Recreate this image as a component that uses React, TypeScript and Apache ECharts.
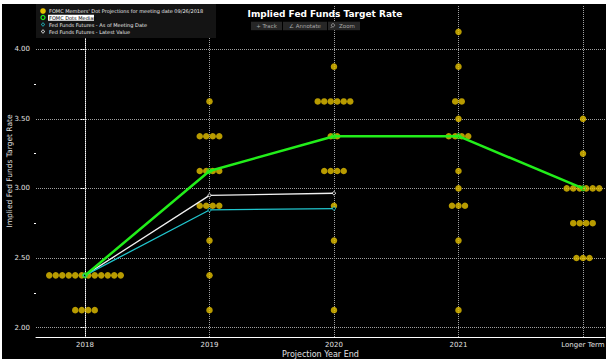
import React, { useEffect, useRef } from "react";
import * as echarts from "echarts";

const categories = ["2018", "2019", "2020", "2021", "Longer Term"];

// FOMC dot plot: [rate, number of participants]
const dots2018 = [[2.375, 12], [2.125, 4]];
const dots2019 = [[3.625, 1], [3.375, 4], [3.125, 4], [2.875, 4], [2.625, 1], [2.375, 1], [2.125, 1]];
const dots2020 = [[3.875, 1], [3.625, 6], [3.375, 2], [3.125, 4], [2.875, 1], [2.625, 1], [2.125, 1]];
const dots2021 = [[4.125, 1], [3.875, 1], [3.625, 2], [3.5, 1], [3.375, 4], [3.125, 1], [3.0, 1], [2.875, 3], [2.625, 1], [2.125, 1]];
const dotsLonger = [[3.5, 1], [3.25, 1], [3.0, 6], [2.75, 4], [2.5, 3]];
const dotGroups = [dots2018, dots2019, dots2020, dots2021, dotsLonger];

const medianValues = [2.375, 3.125, 3.375, 3.375, 3.0];
const futuresMeeting = [2.375, 2.845, 2.855];
const futuresLatest = [2.375, 2.95, 2.965];

const yTicks = [2.0, 2.5, 3.0, 3.5, 4.0];
const yMinorTicks = [2.25, 2.75, 3.25, 3.75];
const xTicks = [0, 1, 2, 3, 4];

const YELLOW = "#e6c200";
const GREEN = "#22ee1a";
const CYAN = "#20c4cc";
const WHITE = "#f0f0f0";
const FONT = "DejaVu Sans";

export default function App() {
  const ref = useRef<HTMLDivElement>(null);
  useEffect(() => {
    document.body.style.margin = "0";
    const chart = echarts.init(ref.current!, null, { renderer: "svg" });

    const scatterData: any[] = [];
    dotGroups.forEach((group, i) => {
      group.forEach(([rate, count]) => {
        for (let j = 0; j < count; j++) {
          scatterData.push({
            value: [i, rate],
            symbolOffset: [(j - (count - 1) / 2) * 6.5, 0],
          });
        }
      });
    });

    const gridStyle = { color: "#a0a0a0", width: 1, type: [1, 1] as any };

    const option: any = {
      animation: false,
      backgroundColor: "#000",
      textStyle: { fontFamily: FONT },
      grid: { left: 34, top: 1, right: 1, bottom: 22, containLabel: false, outerBoundsMode: "none" },
      xAxis: {
        type: "value",
        min: -0.3936,
        max: 4.177,
        axisLine: { show: true, lineStyle: { color: "#ffffff", width: 1 } },
        axisTick: { show: false },
        splitLine: { show: false },
        axisLabel: {
          customValues: xTicks,
          formatter: (v: number) => categories[Math.round(v)] ?? "",
          color: "#e0e0e0",
          fontSize: 7,
          fontFamily: FONT,
          margin: 4,
        },
        name: "Projection Year End",
        nameLocation: "middle",
        nameGap: 13,
        nameMoveOverlap: false,
        nameTextStyle: { color: "#e0e0e0", fontSize: 8, fontFamily: FONT },
      },
      yAxis: [
        {
          type: "value",
          min: 1.932,
          max: 4.318,
          axisLine: { show: true, lineStyle: { color: "#ffffff", width: 1 } },
          axisTick: { show: true, customValues: yTicks, length: 5, lineStyle: { color: "#ffffff" } },
          splitLine: { show: false },
          axisLabel: {
            customValues: yTicks,
            formatter: (v: number) => v.toFixed(2),
            color: "#e0e0e0",
            fontSize: 7,
            fontFamily: FONT,
            margin: 6,
          },
          name: "Implied Fed Funds Target Rate",
          nameLocation: "middle",
          nameGap: 23,
          nameMoveOverlap: false,
          nameTextStyle: { color: "#e0e0e0", fontSize: 7.5, fontFamily: FONT },
        },
        {
          type: "value",
          position: "left",
          min: 1.932,
          max: 4.318,
          axisLine: { show: false },
          axisTick: { show: true, customValues: yMinorTicks, length: 2, lineStyle: { color: "#ffffff" } },
          axisLabel: { show: false },
          splitLine: { show: false },
        },
      ],
      series: [
        {
          type: "scatter",
          name: "dots",
          data: scatterData,
          symbol: "circle",
          symbolSize: 6.5,
          itemStyle: { color: YELLOW },
          z: 2,
          silent: true,
          markLine: {
            silent: true,
            symbol: "none",
            label: { show: false },
            lineStyle: gridStyle,
            data: [
              ...xTicks.map((x) => ({ xAxis: x })),
              ...yTicks.map((y) => ({ yAxis: y })),
            ],
            z: 1,
          },
        },
        {
          type: "line",
          name: "Fed Funds Futures - Latest Value",
          data: futuresLatest.map((v, i) => [i, v]),
          symbol: "circle",
          symbolSize: 3,
          itemStyle: { color: "#000", borderColor: WHITE, borderWidth: 1 },
          lineStyle: { color: WHITE, width: 1.3 },
          z: 3,
        },
        {
          type: "line",
          name: "Fed Funds Futures - As of Meeting Date",
          data: futuresMeeting.map((v, i) => [i, v]),
          symbol: "circle",
          symbolSize: 3,
          itemStyle: { color: "#000", borderColor: CYAN, borderWidth: 1 },
          lineStyle: { color: CYAN, width: 1.3 },
          z: 3,
        },
        {
          type: "line",
          name: "FOMC Dots Median",
          data: medianValues.map((v, i) => [i, v]),
          symbol: "circle",
          symbolSize: 5,
          itemStyle: { color: "rgba(0,0,0,0)", borderColor: GREEN, borderWidth: 1 },
          lineStyle: { color: GREEN, width: 2.5 },
          z: 4,
        },
      ],
      graphic: [
        // legend box
        { type: "rect", shape: { x: 34, y: 0, width: 180, height: 34 }, style: { fill: "#141414" }, z: 10 },
        { type: "circle", shape: { cx: 41, cy: 7, r: 2.8 }, style: { fill: YELLOW }, z: 11 },
        {
          type: "text", x: 47, y: 7, z: 11,
          style: { text: "FOMC Members' Dot Projections for meeting date 09/26/2018", fill: "#e8e8e8", fontSize: 5, fontFamily: FONT, verticalAlign: "middle" },
        },
        { type: "circle", shape: { cx: 41, cy: 13.5, r: 2 }, style: { fill: "none", stroke: GREEN, lineWidth: 1.2 }, z: 11 },
        { type: "rect", shape: { x: 46, y: 10.7, width: 46, height: 6 }, style: { fill: "#ffffff" }, z: 11 },
        {
          type: "text", x: 47, y: 13.7, z: 12,
          style: { text: "FOMC Dots Median", fill: "#000", fontSize: 5, fontFamily: FONT, verticalAlign: "middle" },
        },
        { type: "circle", shape: { cx: 41, cy: 20.5, r: 1.4 }, style: { fill: "none", stroke: CYAN, lineWidth: 1 }, z: 11 },
        {
          type: "text", x: 47, y: 20.5, z: 11,
          style: { text: "Fed Funds Futures - As of Meeting Date", fill: "#e8e8e8", fontSize: 5, fontFamily: FONT, verticalAlign: "middle" },
        },
        { type: "circle", shape: { cx: 41, cy: 27.5, r: 1.4 }, style: { fill: "none", stroke: WHITE, lineWidth: 1 }, z: 11 },
        {
          type: "text", x: 47, y: 27.5, z: 11,
          style: { text: "Fed Funds Futures - Latest Value", fill: "#e8e8e8", fontSize: 5, fontFamily: FONT, verticalAlign: "middle" },
        },
        // title
        {
          type: "text", x: 323, y: 10, z: 11,
          style: { text: "Implied Fed Funds Target Rate", fill: "#ffffff", fontSize: 9, fontWeight: "bold", fontFamily: FONT, align: "center", verticalAlign: "middle" },
        },
        // toolbar
        { type: "rect", shape: { x: 249, y: 17.7, width: 31, height: 8.5 }, style: { fill: "#262626" }, z: 10 },
        {
          type: "text", x: 264.5, y: 22, z: 11,
          style: { text: "+ Track", fill: "#a8a8a8", fontSize: 5.5, fontFamily: FONT, align: "center", verticalAlign: "middle" },
        },
        { type: "rect", shape: { x: 281, y: 17.7, width: 44, height: 8.5 }, style: { fill: "#262626" }, z: 10 },
        {
          type: "text", x: 303, y: 22, z: 11,
          style: { text: "∠ Annotate", fill: "#a8a8a8", fontSize: 5.5, fontFamily: FONT, align: "center", verticalAlign: "middle" },
        },
        { type: "rect", shape: { x: 326, y: 17.7, width: 32, height: 8.5 }, style: { fill: "#262626" }, z: 10 },
        { type: "circle", shape: { cx: 331, cy: 21.3, r: 1.6 }, style: { fill: "none", stroke: "#a8a8a8", lineWidth: 0.8 }, z: 11 },
        { type: "line", shape: { x1: 330, y1: 22.6, x2: 328.6, y2: 24 }, style: { stroke: "#a8a8a8", lineWidth: 0.8 }, z: 11 },
        {
          type: "text", x: 345, y: 22, z: 11,
          style: { text: "Zoom", fill: "#a8a8a8", fontSize: 5.5, fontFamily: FONT, align: "center", verticalAlign: "middle" },
        },
      ],
    };
    chart.setOption(option);
    return () => chart.dispose();
  }, []);

  return (
    <div style={{ position: "relative", width: 610, height: 364, background: "#fff" }}>
      <div
        ref={ref}
        style={{ position: "absolute", left: 2, top: 4, width: 604, height: 355, background: "#000" }}
      />
    </div>
  );
}
